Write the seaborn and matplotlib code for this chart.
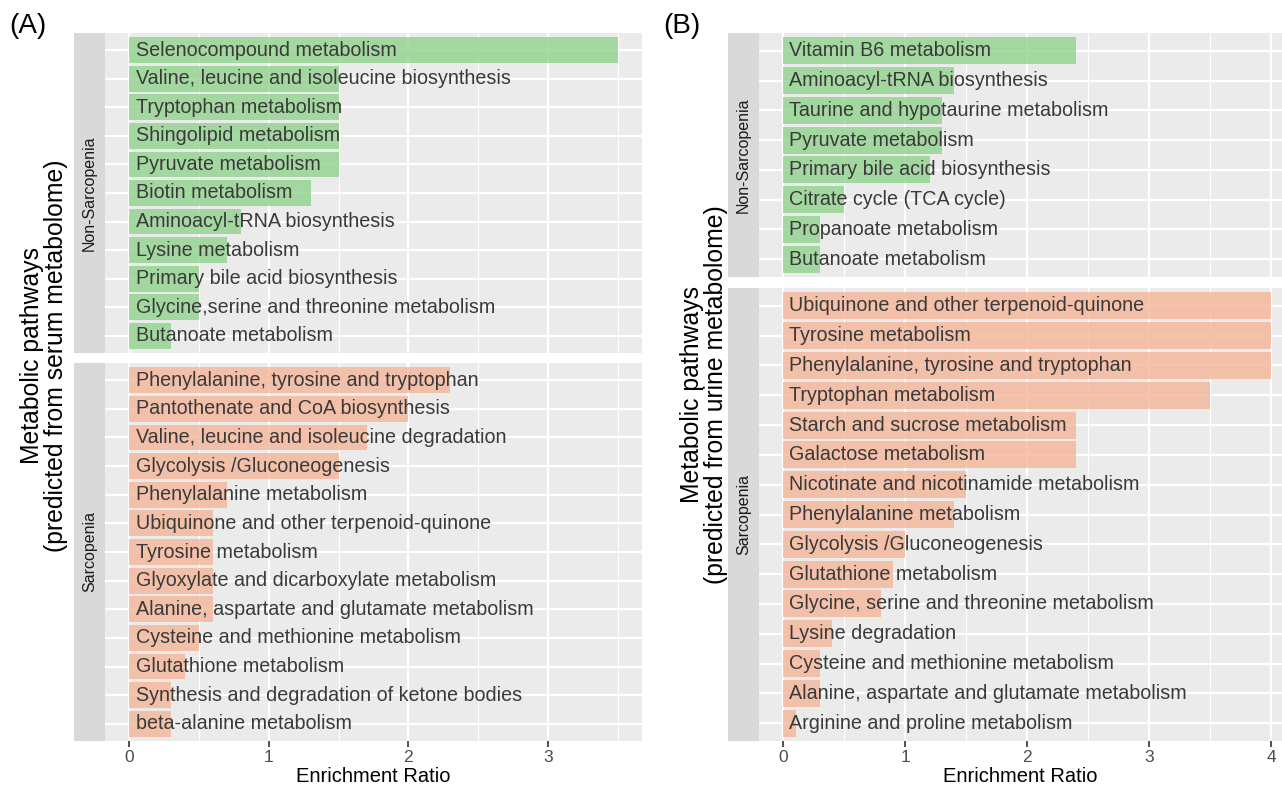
import matplotlib
matplotlib.use("Agg")
import matplotlib.pyplot as plt
import seaborn as sns
import pandas as pd

# Serum metabolome (panel A)
serum_non_pathways = [
    "Selenocompound metabolism",
    "Valine, leucine and isoleucine biosynthesis",
    "Tryptophan metabolism",
    "Shingolipid metabolism",
    "Pyruvate metabolism",
    "Biotin metabolism",
    "Aminoacyl-tRNA biosynthesis",
    "Lysine metabolism",
    "Primary bile acid biosynthesis",
    "Glycine,serine and threonine metabolism",
    "Butanoate metabolism",
]
serum_non_ratio = [3.5, 1.5, 1.5, 1.5, 1.5, 1.3, 0.8, 0.7, 0.5, 0.5, 0.3]

serum_sar_pathways = [
    "Phenylalanine, tyrosine and tryptophan",
    "Pantothenate and CoA biosynthesis",
    "Valine, leucine and isoleucine degradation",
    "Glycolysis /Gluconeogenesis",
    "Phenylalanine metabolism",
    "Ubiquinone and other terpenoid-quinone",
    "Tyrosine metabolism",
    "Glyoxylate and dicarboxylate metabolism",
    "Alanine, aspartate and glutamate metabolism",
    "Cysteine and methionine metabolism",
    "Glutathione metabolism",
    "Synthesis and degradation of ketone bodies",
    "beta-alanine metabolism",
]
serum_sar_ratio = [2.3, 2.0, 1.7, 1.5, 0.7, 0.6, 0.6, 0.6, 0.6, 0.5, 0.4, 0.3, 0.3]

# Urine metabolome (panel B)
urine_non_pathways = [
    "Vitamin B6 metabolism",
    "Aminoacyl-tRNA biosynthesis",
    "Taurine and hypotaurine metabolism",
    "Pyruvate metabolism",
    "Primary bile acid biosynthesis",
    "Citrate cycle (TCA cycle)",
    "Propanoate metabolism",
    "Butanoate metabolism",
]
urine_non_ratio = [2.4, 1.4, 1.3, 1.3, 1.2, 0.5, 0.3, 0.3]

urine_sar_pathways = [
    "Ubiquinone and other terpenoid-quinone",
    "Tyrosine metabolism",
    "Phenylalanine, tyrosine and tryptophan",
    "Tryptophan metabolism",
    "Starch and sucrose metabolism",
    "Galactose metabolism",
    "Nicotinate and nicotinamide metabolism",
    "Phenylalanine metabolism",
    "Glycolysis /Gluconeogenesis",
    "Glutathione metabolism",
    "Glycine, serine and threonine metabolism",
    "Lysine degradation",
    "Cysteine and methionine metabolism",
    "Alanine, aspartate and glutamate metabolism",
    "Arginine and proline metabolism",
]
urine_sar_ratio = [4.0, 4.0, 4.0, 3.5, 2.4, 2.4, 1.5, 1.4, 1.0, 0.9, 0.8, 0.4, 0.3, 0.3, 0.1]

group_labels = ["Non-Sarcopenia", "Sarcopenia"]
x_title = "Enrichment Ratio"
y_title_a = "Metabolic pathways\n(predicted from serum metabolome)"
y_title_b = "Metabolic pathways\n(predicted from urine metabolome)"

GREEN = (145 / 255, 210 / 255, 141 / 255)
ORANGE = (245 / 255, 181 / 255, 151 / 255)
PANEL_BG = "#EBEBEB"
STRIP_BG = "#D9D9D9"

sns.set_theme(style="white")
plt.rcParams["font.family"] = ["Liberation Sans", "DejaVu Sans"]

W, H = 1282, 787
fig = plt.figure(figsize=(W / 100, H / 100), dpi=100)


def px_axes(left, top, right, bottom):
    return fig.add_axes([left / W, 1 - bottom / H, (right - left) / W, (bottom - top) / H])


def facet(left, top, right, bottom, strip_left, pathways, ratios, color,
          xlim, xticks, minor, strip_text, show_x):
    ax = px_axes(left, top, right, bottom)
    ax.set_facecolor(PANEL_BG)
    df = pd.DataFrame({"pathway": pathways, "ratio": ratios})
    n = len(pathways)
    # grid lines first so bars sit on top
    for v in minor:
        ax.axvline(v, color="white", lw=0.8, zorder=0)
    for v in xticks:
        ax.axvline(v, color="white", lw=1.6, zorder=0)
    for i in range(n):
        ax.axhline(i, color="white", lw=1.6, zorder=0)
    sns.barplot(data=df, x="ratio", y="pathway", order=pathways, orient="h",
                color=color, saturation=1, width=0.9, alpha=0.8,
                linewidth=0, ax=ax, zorder=1)
    for i, name in enumerate(pathways):
        ax.text(0.05, i, name, ha="left", va="center", fontsize=14.2,
                color="#3a3a3a", zorder=3)
    ax.set_xlim(*xlim)
    ax.set_ylim(n - 1 + 0.6, -0.6)
    ax.set_yticks([])
    ax.set_ylabel("")
    ax.set_xlabel("")
    for s in ax.spines.values():
        s.set_visible(False)
    if show_x:
        ax.set_xticks(xticks)
        ax.set_xticklabels([str(t) for t in xticks])
        ax.tick_params(axis="x", bottom=True, length=4, width=1.2, color="#333333",
                       labelsize=12.5, labelcolor="#4D4D4D", pad=2.5)
    else:
        ax.set_xticks([])
    # strip on the left side of the panel
    sax = px_axes(strip_left, top, left, bottom)
    sax.set_xticks([])
    sax.set_yticks([])
    sax.set_facecolor(STRIP_BG)
    for s in sax.spines.values():
        s.set_visible(False)
    sax.text(0.5, 0.5, strip_text, rotation=90, ha="center", va="center",
             fontsize=11.5, color="#1A1A1A", transform=sax.transAxes)
    return ax


# Panel A
xa = (-0.175, 3.675)
facet(105, 33, 642, 353, 74, serum_non_pathways, serum_non_ratio, GREEN,
      xa, [0, 1, 2, 3], [0.5, 1.5, 2.5, 3.5], group_labels[0], False)
facet(105, 363, 642, 741, 74, serum_sar_pathways, serum_sar_ratio, ORANGE,
      xa, [0, 1, 2, 3], [0.5, 1.5, 2.5, 3.5], group_labels[1], True)

# Panel B
xb = (-0.2, 4.09)
facet(759, 33, 1282, 277, 728, urine_non_pathways, urine_non_ratio, GREEN,
      xb, [0, 1, 2, 3, 4], [0.5, 1.5, 2.5, 3.5], group_labels[0], False)
facet(759, 288, 1282, 741, 728, urine_sar_pathways, urine_sar_ratio, ORANGE,
      xb, [0, 1, 2, 3, 4], [0.5, 1.5, 2.5, 3.5], group_labels[1], True)

# Axis titles
fig.text(373 / W, 1 - 777 / H, x_title, ha="center", va="center", fontsize=14.5, color="black")
fig.text(1020 / W, 1 - 777 / H, x_title, ha="center", va="center", fontsize=14.5, color="black")
fig.text(44 / W, 1 - 356 / H, y_title_a, ha="center", va="center", rotation=90,
         fontsize=17.8, color="black", linespacing=1.0)
fig.text(704 / W, 1 - 395 / H, y_title_b, ha="center", va="center", rotation=90,
         fontsize=17.8, color="black", linespacing=1.0)

# Panel tags
fig.text(9 / W, 1 - 26 / H, "(A)", ha="left", va="center", fontsize=20, color="black")
fig.text(663 / W, 1 - 26 / H, "(B)", ha="left", va="center", fontsize=20, color="black")

fig.savefig("out.png", dpi=100, facecolor="white")
